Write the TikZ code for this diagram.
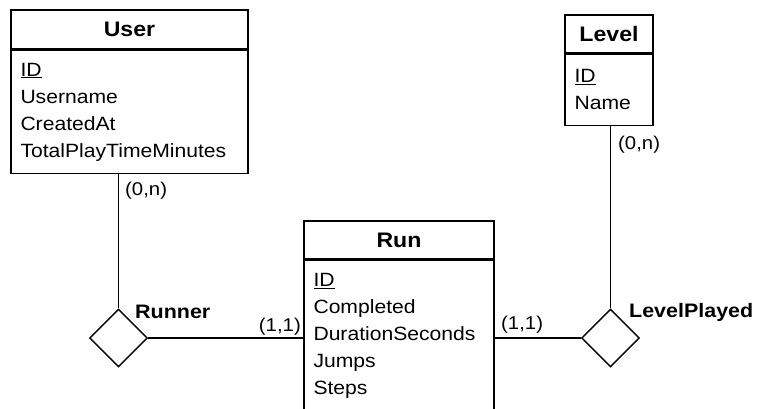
\documentclass[tikz,border=0pt]{standalone}
\usepackage{fontspec}
\setmainfont{Liberation Sans}[FakeStretch=1.1]
\usetikzlibrary{positioning,shapes.geometric}

\tikzset{
  head/.style={draw, line width=1.4pt, inner sep=0pt, font=\fontsize{21}{24}\selectfont\bfseries},
  attrs/.style={draw, line width=1.4pt, inner xsep=9.5pt, inner ysep=0pt, align=left, font=\fontsize{19.2}{27}\selectfont},
  rel/.style={draw, diamond, line width=1.4pt, minimum width=58pt, minimum height=58pt, inner sep=0pt},
  rellabel/.style={inner sep=0pt, font=\fontsize{19.5}{22}\selectfont\bfseries},
  card/.style={inner sep=0pt, font=\fontsize{18.5}{20}\selectfont},
  link/.style={line width=1.4pt},
}

\begin{document}
\begin{tikzpicture}[x=1pt,y=-1pt]
	\useasboundingbox (0,0) rectangle (757,408);
	
	%%%%% entities %%%%%
	\node[head, minimum width=237pt, minimum height=39pt] (user) at (129.5,29.5) {User};
	\node[attrs, minimum width=237pt, text width=218pt, minimum height=123pt, below=0pt of user] (userattr)
		{\underline{ID}\\Username\\CreatedAt\\TotalPlayTimeMinutes};
	
	\node[head, minimum width=88pt, minimum height=38pt] (level) at (609,34) {Level};
	\node[attrs, minimum width=88pt, text width=69pt, minimum height=71pt, below=0pt of level] (levelattr)
		{\underline{ID}\\Name};
	
	\node[head, minimum width=190pt, minimum height=38pt] (run) at (399,240) {Run};
	\node[attrs, minimum width=190pt, text width=171pt, minimum height=151pt, below=0pt of run] (runattr)
		{\underline{ID}\\Completed\\DurationSeconds\\Jumps\\Steps};
	
	%%%%% relationships %%%%%
	\node[rel] (runner) at (118.5,338) {};
	\node[rellabel, anchor=west] (runnerlbl) at (135,312) {Runner};
	
	\node[rel] (played) at (610.5,338) {};
	\node[rellabel, anchor=west] (playedlbl) at (629,312) {LevelPlayed};
	
	\draw[link] (runner.north) -- (runner.north |- userattr.south);
	\draw[link] (runner.east) -- (runner.east -| runattr.west);
	\draw[link] (played.west) -- (played.west -| runattr.east);
	\draw[link] (played.north) -- (played.north |- levelattr.south);
	
	%%%%% cardinalities %%%%%
	\node[card, anchor=west] (usercard) at (125,191) {(0,n)};
	\node[card, anchor=west] (levelcard) at (618,145) {(0,n)};
	\node[card, anchor=east] (runleft) at (301,327) {(1,1)};
	\node[card, anchor=west] (runright) at (501,325) {(1,1)};
\end{tikzpicture}
\end{document}
